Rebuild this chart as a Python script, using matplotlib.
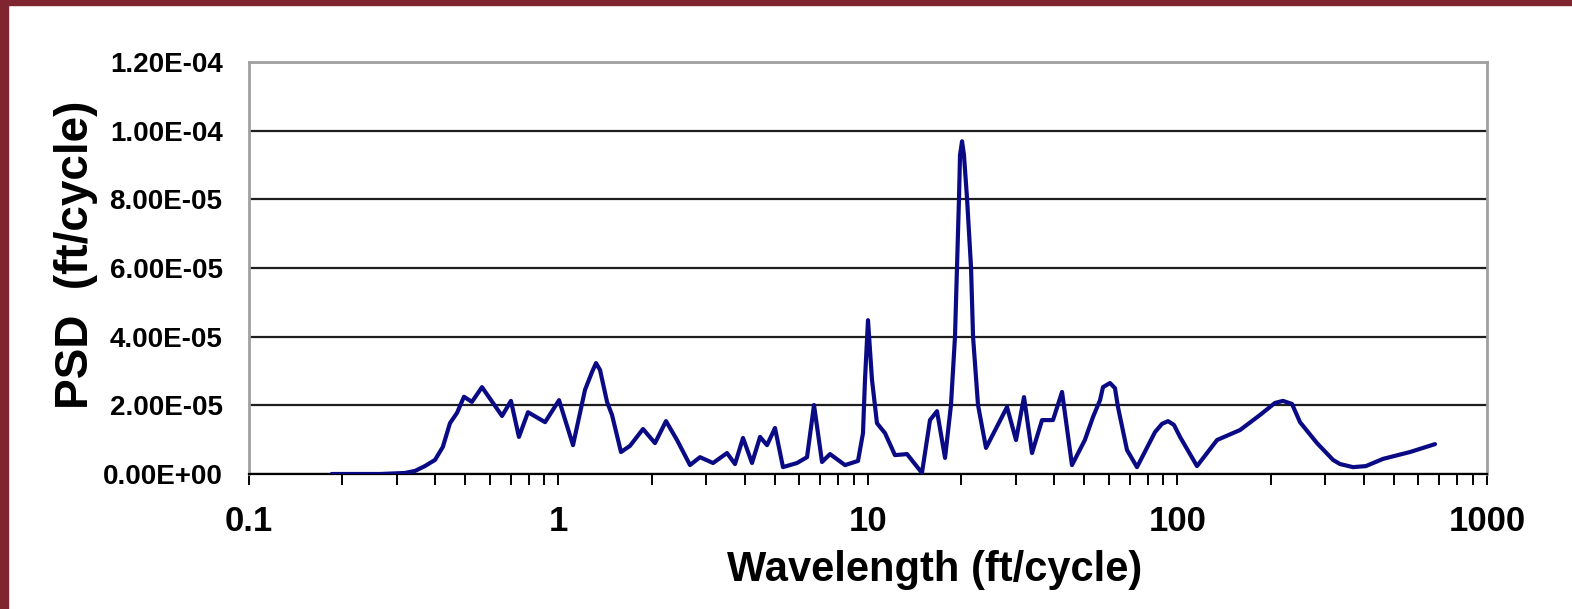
import matplotlib
matplotlib.use("Agg")
import matplotlib.pyplot as plt
from matplotlib.patches import Rectangle
from matplotlib.ticker import LogLocator, FixedLocator, NullFormatter

## data ##
wavelength = [0.185, 0.265, 0.319, 0.344, 0.370, 0.399, 0.423, 0.446, 0.470, 0.495,
              0.525, 0.566, 0.657, 0.702, 0.745, 0.797, 0.905, 1.004, 1.114, 1.218,
              1.283, 1.322, 1.362, 1.435, 1.489, 1.592, 1.702, 1.875, 2.050, 2.225,
              2.415, 2.660, 2.865, 3.157, 3.503, 3.718, 3.946, 4.219, 4.479, 4.718,
              5.006, 5.313, 5.896, 6.353, 6.692, 7.103, 7.539, 8.427, 9.283, 9.634,
              9.779, 10.0, 10.30, 10.69, 11.35, 12.22, 13.37, 14.94, 15.86, 16.71,
              17.74, 18.54, 19.10, 19.39, 19.68, 19.83, 20.13, 20.42, 20.89, 21.52,
              21.85, 22.67, 24.06, 28.13, 30.08, 31.92, 33.88, 36.50, 39.60, 42.36,
              45.61, 50.2, 53.33, 56.19, 57.45, 60.51, 62.8, 64.22, 68.68, 73.98,
              84.59, 89.1, 93.18, 97.4, 101.9, 115.6, 134.2, 159.2, 184.8, 206.5,
              219.2, 234.4, 248.8, 282.3, 318.1, 335.0, 369.0, 406.0, 461.3, 563.9,
              679.2]
psd_e5 = [0.0, 0.0, 0.03, 0.09, 0.23, 0.41, 0.79, 1.48, 1.78, 2.25,
          2.10, 2.53, 1.69, 2.13, 1.08, 1.80, 1.51, 2.15, 0.84, 2.45,
          2.97, 3.23, 3.03, 2.10, 1.72, 0.64, 0.82, 1.31, 0.90, 1.54,
          0.99, 0.26, 0.49, 0.32, 0.61, 0.29, 1.05, 0.32, 1.08, 0.84,
          1.34, 0.20, 0.32, 0.49, 2.01, 0.35, 0.58, 0.26, 0.38, 1.19,
          2.75, 4.48, 2.75, 1.48, 1.19, 0.55, 0.58, 0.03, 1.57, 1.83,
          0.47, 2.01, 3.99, 6.03, 8.03, 9.29, 9.69, 9.29, 8.03, 6.03,
          3.99, 2.01, 0.76, 1.95, 0.99, 2.24, 0.61, 1.57, 1.57, 2.39,
          0.26, 0.99, 1.66, 2.15, 2.53, 2.65, 2.50, 1.95, 0.70, 0.20,
          1.22, 1.46, 1.54, 1.43, 1.08, 0.23, 0.99, 1.28, 1.72, 2.07,
          2.13, 2.04, 1.51, 0.90, 0.41, 0.29, 0.20, 0.23, 0.44, 0.64,
          0.87]
psd = [v * 1e-5 for v in psd_e5]

y_ticks = [0.0, 2e-5, 4e-5, 6e-5, 8e-5, 1e-4, 1.2e-4]
y_labels = ['0.00E+00', '2.00E-05', '4.00E-05', '6.00E-05', '8.00E-05', '1.00E-04', '1.20E-04']
x_ticks = [0.1, 1, 10, 100, 1000]
x_labels = ['0.1', '1', '10', '100', '1000']

plt.rcParams['font.family'] = ['Liberation Sans', 'DejaVu Sans']

fig = plt.figure(figsize=(15.72, 6.09), dpi=100)
ax = fig.add_axes([249 / 1572, 1 - 474 / 609, (1487 - 249) / 1572, (474 - 62) / 609])

# maroon frame strips
fig.patches.append(Rectangle((0, 1 - 5 / 609), 1, 5 / 609, transform=fig.transFigure,
                             color='#7e2530', zorder=10))
fig.patches.append(Rectangle((0, 0), 8 / 1572, 1, transform=fig.transFigure,
                             color='#7e2530', zorder=10))

ax.plot(wavelength, psd, color='#0a0a85', lw=3, solid_joinstyle='round',
        solid_capstyle='round', zorder=3)

ax.set_xscale('log')
ax.set_xlim(0.1, 1000)
ax.set_ylim(0, 1.2e-4)
ax.xaxis.set_major_locator(FixedLocator(x_ticks))
ax.set_xticklabels(x_labels, fontsize=25, fontweight='bold')
ax.xaxis.set_minor_locator(LogLocator(base=10, subs=range(2, 10)))
ax.xaxis.set_minor_formatter(NullFormatter())
ax.set_yticks(y_ticks)
ax.set_yticklabels(y_labels, fontsize=20, fontweight='bold')

ax.yaxis.grid(True, color='#1e1e1e', lw=1.6)
ax.set_axisbelow(True)
ax.tick_params(axis='y', length=0, pad=19)
ax.tick_params(axis='x', which='both', direction='out', length=8, width=1.4,
               color='black', pad=14)

for s in ['top', 'right', 'left']:
    ax.spines[s].set_color('#a0a0a0')
    ax.spines[s].set_linewidth(2)
ax.spines['bottom'].set_color('black')
ax.spines['bottom'].set_linewidth(1.6)

fig.text(935 / 1572, 1 - 570 / 609, 'Wavelength (ft/cycle)', fontsize=30,
         fontweight='bold', ha='center', va='center')
fig.text(76 / 1572, 1 - 255 / 609, 'PSD  (ft/cycle)', fontsize=33,
         fontweight='bold', ha='center', va='center', rotation=90)

fig.savefig('out.png', dpi=100, facecolor='white')
